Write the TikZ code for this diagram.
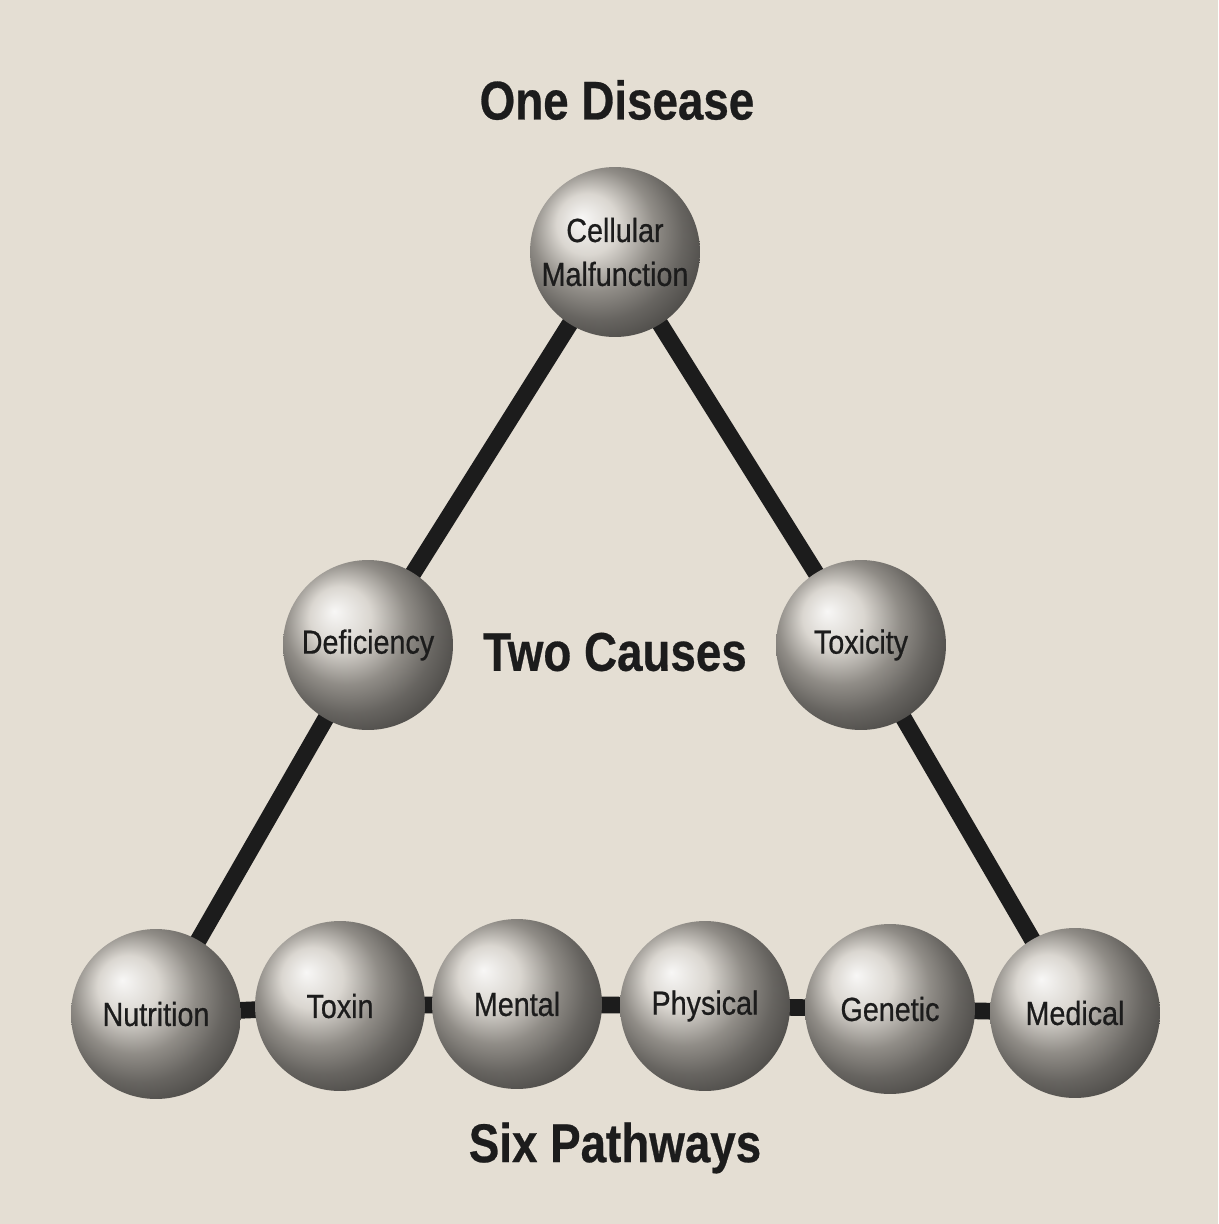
\documentclass[tikz,border=0pt]{standalone}
\usepackage{fontspec}
\newfontfamily\condfont{Liberation Sans}[FakeStretch=0.86,FakeBold=0.6]
\newfontfamily\titlefont{Liberation Sans}[FakeStretch=0.84,FakeBold=0.5]
\usetikzlibrary{backgrounds}
\definecolor{paper}{RGB}{228,222,211}
\definecolor{ballgray}{RGB}{206,201,193}
\definecolor{ink}{RGB}{28,28,28}

\begin{document}
\begin{tikzpicture}[x=0.02cm,y=-0.02cm]
    \tikzstyle{sphere}=[circle,minimum size=3.4cm,inner sep=0pt,
        ball color=ballgray,text=ink,align=center,
        font=\condfont\fontsize{19}{25}\selectfont]
    \tikzstyle{link}=[line width=9.5pt,ink]
    \tikzstyle{title}=[text=ink,font=\titlefont\bfseries\fontsize{31}{34}\selectfont]
    % Spheres
    \node[sphere] (malfunction) at (615,252) {Cellular\\Malfunction};
    \node[sphere] (deficiency) at (368,645) {Deficiency};
    \node[sphere] (toxicity) at (861,645) {Toxicity};
    \node[sphere] (nutrition) at (156,1014) {Nutrition};
    \node[sphere] (toxin) at (340,1006) {Toxin};
    \node[sphere] (mental) at (517,1004) {Mental};
    \node[sphere] (physical) at (705,1006) {Physical};
    \node[sphere] (genetic) at (890,1009) {Genetic};
    \node[sphere] (medical) at (1075,1013) {Medical};
    % Page and links, behind the spheres
    \begin{scope}[on background layer]
    \fill[paper] (0,0) rectangle (1218,1224);
    \draw[link] (malfunction.center) -- (deficiency.center) -- (nutrition.center);
    \draw[link] (malfunction.center) -- (toxicity.center) -- (medical.center);
    \draw[link] (nutrition.center) -- (toxin.center) -- (mental.center)
        -- (physical.center) -- (genetic.center) -- (medical.center);
    \end{scope}
    % Titles
    \node[title] (onedisease) at (617,100) {One Disease};
    \node[title] (twocauses) at (615,652) {Two Causes};
    \node[title] (sixpathways) at (615,1148) {Six Pathways};
\end{tikzpicture}
\end{document}
